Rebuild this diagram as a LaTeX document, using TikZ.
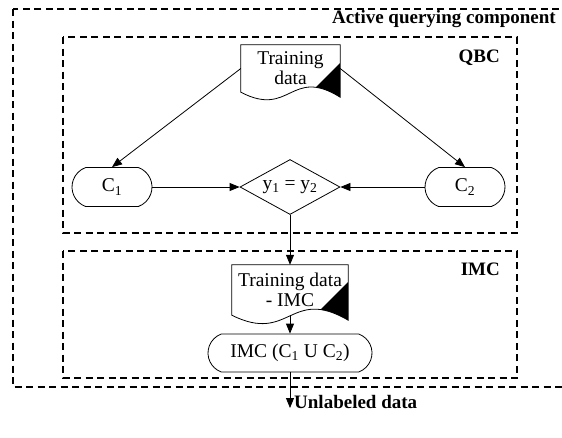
\documentclass[tikz,border=0pt]{standalone}
\usepackage{fontspec}
\setmainfont{Liberation Serif}
\usetikzlibrary{arrows.meta,shapes.misc,shapes.geometric,calc}
\newcommand\docshape[3]{%
  \draw[line width=0.8pt] (#1.north west) -- (#1.north east) -- ($(#1.south east)+(0,5)$)
     .. controls ($(#1.south)+(0,-#2)$) and ($(#1.south)+(0,#2)$) .. (#1.south west) -- cycle;
  \begin{scope}
    \clip (#1.north west) -- (#1.north east) -- ($(#1.south east)+(0,5)$)
     .. controls ($(#1.south)+(0,-#2)$) and ($(#1.south)+(0,#2)$) .. (#1.south west) -- cycle;
    \fill ($(#1.north east)+(0,#3)$) -- ++(-90,90) -- ++(90,0) -- cycle;
  \end{scope}
}
\begin{document}
\begin{tikzpicture}[x=1pt,y=-1pt,
  every node/.style={font=\fontsize{19.5}{20}\selectfont},
  box/.style={draw, dash pattern=on 7pt off 4.5pt, line width=1.1pt},
  lbl/.style={font=\fontsize{19}{20}\selectfont\bfseries, inner sep=0pt},
  term/.style={draw, line width=0.8pt, rounded rectangle, rounded rectangle arc length=140,
     minimum height=39pt, inner sep=0pt},
  docnode/.style={inner sep=0pt, align=center},
  arr/.style={line width=0.8pt, -{Triangle[length=10pt,width=8pt]}}
]
\useasboundingbox (0,0) rectangle (562,437);
% containers
\draw[box] (13,9) rectangle (575,387);
\draw[box] (63,37) rectangle (517,233);
\draw[box] (63,251) rectangle (517,378);
\node[lbl, anchor=east] (lact) at (556,19) {Active querying component};
\node[lbl, anchor=east] (lqbc) at (500,58) {QBC};
\node[lbl, anchor=east] (limc) at (500,269) {IMC};
% QBC part
\node[docnode, minimum width=99pt, minimum height=47pt] (td) at (290.5,68.5) {Training\\data};
\docshape{td}{26}{18}
\node[term, minimum width=80pt] (c1) at (112,187) {C\textsubscript{1}};
\node[term, minimum width=80pt] (c2) at (465,187) {C\textsubscript{2}};
\node[draw, line width=0.8pt, diamond, aspect=1.85, minimum width=100pt, minimum height=55pt, inner sep=0pt] (dia) at (290,187) {y\textsubscript{1} = y\textsubscript{2}};
% IMC part
\node[docnode, minimum width=116pt, minimum height=50pt] (td2) at (290,290) {Training data\\- IMC};
\docshape{td2}{29}{17}
\node[term, minimum width=164pt, minimum height=38pt] (imc) at (290,353) {IMC (C\textsubscript{1} U C\textsubscript{2})};
\coordinate (out) at (290,408);
\node[lbl, anchor=base west] (ul) at ($(out)+(4,0)$) {Unlabeled data};
% connectors
\draw[arr] (td.west) -- (c1.north);
\draw[arr] (td.east) -- (c2.north);
\draw[arr] (c1.east) -- (dia.west);
\draw[arr] (c2.west) -- (dia.east);
\draw[arr] (dia.south) -- (td2.north);
\draw[arr] (td2.south) -- (imc.north);
\draw[arr] (imc.south) -- (out);
\end{tikzpicture}
\end{document}
